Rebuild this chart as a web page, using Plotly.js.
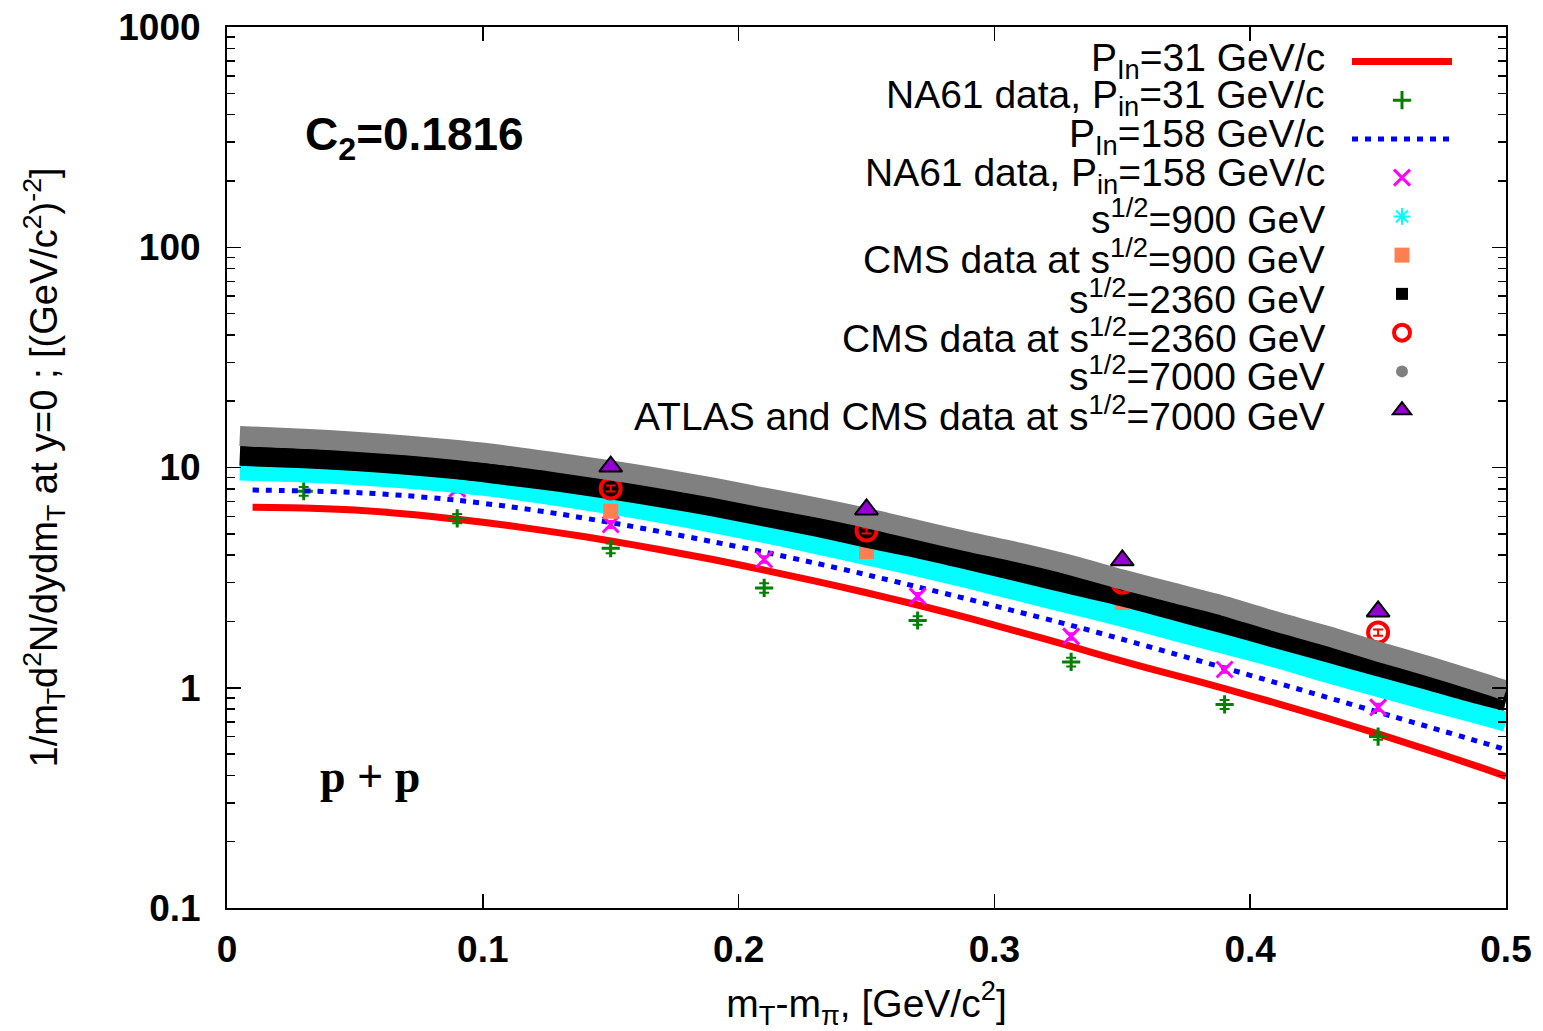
<!DOCTYPE html>
<html>
<head>
<meta charset="utf-8">
<script src="https://cdn.plot.ly/plotly-3.0.1.min.js"></script>
<style>html,body{margin:0;padding:0;background:#fff;}#chart{width:1543px;height:1031px;}</style>
</head>
<body>
<div id="chart"></div>
<script>
// ---------- data ----------
const xLine = [0.01,0.03,0.05,0.07,0.09,0.11,0.13,0.15,0.17,0.19,0.21,0.23,0.25,0.27,0.29,0.31,0.33,0.35,0.37,0.39,0.41,0.43,0.45,0.47,0.49,0.5];
const xBand = [0.005,0.03,0.05,0.07,0.09,0.11,0.13,0.15,0.17,0.19,0.21,0.23,0.25,0.27,0.29,0.31,0.33,0.35,0.37,0.39,0.41,0.43,0.45,0.47,0.49,0.5];

const yP31  = [6.6,6.55,6.41,6.15,5.82,5.45,5.05,4.64,4.22,3.82,3.42,3.05,2.7,2.375,2.07,1.79,1.54,1.32,1.145,0.99,0.852,0.728,0.617,0.52,0.435,0.396];
const yP158 = [7.9,7.83,7.7,7.45,7.1,6.65,6.15,5.62,5.1,4.6,4.13,3.68,3.26,2.87,2.52,2.2,1.92,1.66,1.43,1.23,1.055,0.905,0.775,0.663,0.567,0.524];
const yS900  = [9.7,9.5,9.25,8.9,8.5,8.0,7.4,6.8,6.2,5.6,5.05,4.5,4.0,3.55,3.13,2.74,2.4,2.1,1.82,1.58,1.37,1.17,1.01,0.87,0.755,0.70];
const yS2360 = [11.3,11.0,10.7,10.3,9.8,9.2,8.6,7.95,7.3,6.65,6.0,5.4,4.8,4.3,3.8,3.35,2.95,2.6,2.25,1.95,1.68,1.45,1.25,1.08,0.93,0.87];
const yS7000 = [13.9,13.5,13.1,12.6,12.0,11.3,10.5,9.7,8.9,8.1,7.3,6.6,5.9,5.2,4.6,4.1,3.6,3.1,2.7,2.35,2.0,1.72,1.46,1.25,1.06,0.97];

const xNA61 = [0.03,0.09,0.15,0.21,0.27,0.33,0.39,0.45];
const yNA61_31  = [7.8,5.87,4.3,2.84,2.02,1.31,0.84,0.60];
const eNA61_31  = [0.35,0.28,0.22,0.14,0.09,0.06,0.04,0.02];
const xNA61_158 = [0.09,0.15,0.21,0.27,0.33,0.39,0.45];
const yNA61_158 = [8.0,5.51,3.82,2.6,1.71,1.21,0.815];
const eNA61_158 = [0.3,0.2,0.13,0.09,0.06,0.04,0.03];

const xCMS900 = [0.15,0.25,0.35];
const yCMS900 = [6.33,4.15,2.44];
const eCMS900 = [0.2,0.13,0.08];
const xCMS2360 = [0.15,0.25,0.35,0.45];
const yCMS2360 = [8.03,5.17,3.0,1.78];
const eCMS2360 = [0.25,0.16,0.1,0.06];
const xLHC7000 = [0.15,0.25,0.35,0.45];
const yLHC7000 = [10.1,6.45,3.79,2.22];
const eLHC7000 = [0.3,0.2,0.12,0.07];

const legendLabels = [
  "P<sub>In</sub>=31 GeV/c",
  "NA61 data, P<sub>in</sub>=31 GeV/c",
  "P<sub>In</sub>=158 GeV/c",
  "NA61 data, P<sub>in</sub>=158 GeV/c",
  "s<sup>1/2</sup>=900 GeV",
  "CMS data at s<sup>1/2</sup>=900 GeV",
  "s<sup>1/2</sup>=2360 GeV",
  "CMS data at s<sup>1/2</sup>=2360 GeV",
  "s<sup>1/2</sup>=7000 GeV",
  "ATLAS and CMS data at s<sup>1/2</sup>=7000 GeV"
];
const xTitle = "m<sub>T</sub>-m<sub>\u03c0</sub>, [GeV/c<sup>2</sup>]";
const yTitle = "1/m<sub>T</sub>d<sup>2</sup>N/dydm<sub>T</sub> at y=0 ; [(GeV/c<sup>2</sup>)<sup>-2</sup>]";
const noteC2 = "C<sub>2</sub>=0.1816";
const notePP = "p + p";

// ---------- layout helpers ----------
const L = 227, R = 1506, T = 27, B = 908;
const xp = px => (px - L) / (R - L);
const yp = py => (B - py) / (B - T);
const sans = "Liberation Sans, Arial, Helvetica, sans-serif";

function err(arr){ return {type:'data', array:arr, visible:true, thickness:2, width:5}; }
const smooth = {shape:'spline', smoothing:0.8};

const traces = [
  {x:xLine, y:yP31, mode:'lines', name:' ', line:Object.assign({color:'#ff0000', width:7}, smooth)},
  {x:xNA61, y:yNA61_31, mode:'markers', name:' ',
   marker:{symbol:'cross-thin-open', size:13, color:'#008000', line:{width:3, color:'#008000'}},
   error_y:Object.assign(err(eNA61_31), {color:'#008000'})},
  {x:xLine, y:yP158, mode:'lines', name:' ', line:Object.assign({color:'#0000ff', width:5, dash:'6px,7px'}, smooth)},
  {x:xNA61_158, y:yNA61_158, mode:'markers', name:' ',
   marker:{symbol:'x-thin-open', size:16, color:'#ff00ff', line:{width:3, color:'#ff00ff'}},
   error_y:Object.assign(err(eNA61_158), {color:'#ff00ff'})},
  {x:xBand, y:yS900, mode:'lines', showlegend:false, line:Object.assign({color:'#00ffff', width:20}, smooth)},
  {x:[null], y:[null], mode:'markers', name:' ',
   marker:{symbol:'asterisk-open', size:14, color:'#00ffff', line:{width:2, color:'#00ffff'}}},
  {x:xCMS900, y:yCMS900, mode:'markers', name:' ',
   marker:{symbol:'square', size:15, color:'#ff7f50'},
   error_y:Object.assign(err(eCMS900), {color:'#ff7f50'})},
  {x:xBand, y:yS2360, mode:'lines', showlegend:false, line:Object.assign({color:'#000000', width:20}, smooth)},
  {x:[null], y:[null], mode:'markers', name:' ',
   marker:{symbol:'square', size:12, color:'#000000'}},
  {x:xCMS2360, y:yCMS2360, mode:'markers', name:' ',
   marker:{symbol:'circle-open', size:20, color:'#ff0000', line:{width:4, color:'#ff0000'}},
   error_y:Object.assign(err(eCMS2360), {color:'#ff0000'})},
  {x:xBand, y:yS7000, mode:'lines', showlegend:false, line:Object.assign({color:'#808080', width:20}, smooth)},
  {x:[null], y:[null], mode:'markers', name:' ',
   marker:{symbol:'circle', size:12, color:'#808080'}},
  {x:xLHC7000, y:yLHC7000, mode:'markers', name:' ',
   marker:{symbol:'triangle-up', size:20, color:'#9400d3', line:{width:2, color:'#000000'}},
   error_y:Object.assign(err(eLHC7000), {color:'#9400d3'})}
];

const rowY = [60, 98, 136, 175, 216, 256, 296, 335, 374, 413];
const annotations = legendLabels.map((t, i) => ({
  text:t, xref:'paper', yref:'paper', x:xp(1327), y:yp(rowY[i]),
  xanchor:'right', yanchor:'middle', showarrow:false,
  font:{family:sans, size:39, color:'#000'}
}));
annotations.push({text:'<b>'+noteC2+'</b>', xref:'paper', yref:'paper', x:xp(303), y:yp(137),
  xanchor:'left', yanchor:'middle', showarrow:false, font:{family:sans, size:46, color:'#000'}});
annotations.push({text:'<b>'+notePP+'</b>', xref:'paper', yref:'paper', x:xp(318), y:yp(776),
  xanchor:'left', yanchor:'middle', showarrow:false, font:{family:'Liberation Serif, Times New Roman, serif', size:46, color:'#000'}});

const layout = {
  width:1543, height:1031,
  margin:{l:L, r:1543-R, t:T, b:1031-B},
  paper_bgcolor:'#fff', plot_bgcolor:'#fff',
  showlegend:true,
  legend:{x:xp(1347), y:yp(37), xanchor:'left', yanchor:'top', bgcolor:'rgba(0,0,0,0)',
          font:{family:sans, size:27.5}, itemwidth:100, itemsizing:'trace', traceorder:'normal'},
  xaxis:{range:[0,0.5], dtick:0.1, tick0:0, showgrid:false, zeroline:false,
         showline:true, linecolor:'#000', linewidth:2, mirror:'ticks',
         ticks:'inside', ticklen:14, tickwidth:1.5, tickcolor:'#000',
         ticklabelstandoff:8,
         tickfont:{family:sans, size:37, color:'#000', weight:'bold'},
         title:{text:xTitle, font:{family:sans, size:39, color:'#000'}, standoff:26}},
  yaxis:{type:'log', range:[-1,3], dtick:1, exponentformat:'none', showgrid:false, zeroline:false,
         showline:true, linecolor:'#000', linewidth:2, mirror:'ticks',
         ticks:'inside', ticklen:14, tickwidth:1.5, tickcolor:'#000',
         ticklabelstandoff:17,
         minor:{dtick:'D1', ticks:'inside', ticklen:8, tickwidth:1.5, tickcolor:'#000', showgrid:false},
         tickfont:{family:sans, size:37, color:'#000', weight:'bold'},
         title:{text:yTitle, font:{family:sans, size:38, color:'#000'}, standoff:49}},
  annotations:annotations
};

Plotly.newPlot('chart', traces, layout, {displayModeBar:false, staticPlot:true});
</script>
</body>
</html>
